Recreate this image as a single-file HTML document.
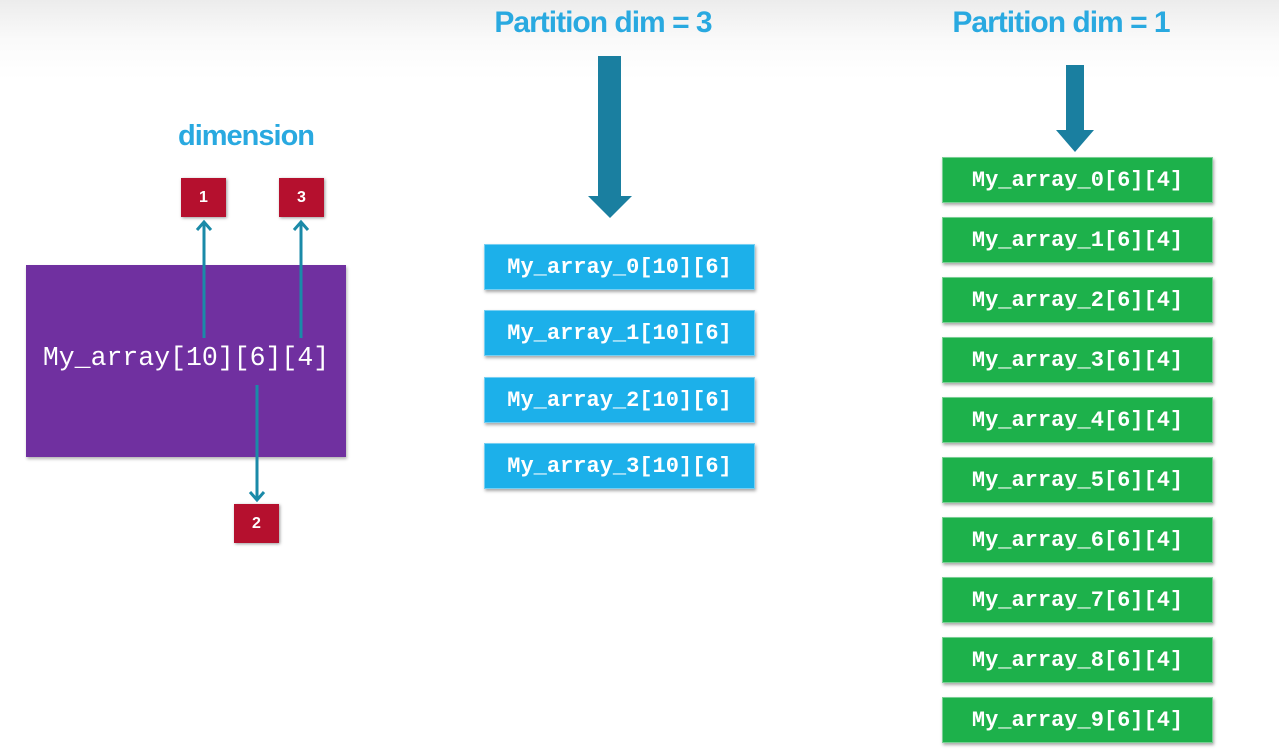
<!DOCTYPE html>
<html><head><meta charset="utf-8"><style>
body{margin:0;width:1279px;height:752px;position:relative;overflow:hidden;background:linear-gradient(#ececec 0px,#fafafa 40px,#fff 80px);font-family:"Liberation Sans",sans-serif}
.a{position:absolute}
.t{color:#29a9e0;font-weight:bold;font-size:30px;letter-spacing:-1px;text-align:center;white-space:nowrap}
.bx{position:absolute;width:271px;height:46px;color:#fff;font-family:"Liberation Mono",monospace;font-weight:bold;font-size:22px;line-height:46px;text-align:center;box-shadow:1px 2px 3px rgba(0,0,0,.35);border:1px solid rgba(255,255,255,.4);box-sizing:border-box}
.b{background:#1cb0ea}.g{background:#1db14b}
.r{position:absolute;width:45px;height:39px;background:#b5102e;color:#fff;font-weight:bold;font-size:16px;line-height:39px;text-align:center;box-shadow:1px 1px 3px rgba(0,0,0,.4)}
</style></head><body>
<div class="a t" style="left:443px;top:6px;width:320px">Partition dim = 3</div>
<div class="a t" style="left:901px;top:6px;width:320px">Partition dim = 1</div>
<div class="a t" style="left:146px;top:120px;width:200px;font-size:29px">dimension</div>
<div class="a" style="left:26px;top:265px;width:320px;height:192px;background:#7030a0;box-shadow:1px 2px 3px rgba(0,0,0,.3)"></div>
<div class="a" style="left:26px;top:343px;width:320px;text-align:center;color:#fff;font-family:'Liberation Mono',monospace;font-size:26.5px">My_array[10][6][4]</div>
<div class="r" style="left:181px;top:178px">1</div>
<div class="r" style="left:279px;top:178px">3</div>
<div class="r" style="left:234px;top:504px">2</div>
<svg class="a" style="left:0;top:0" width="1279" height="752">
<g stroke="#1a8aa8" stroke-width="3" fill="none">
<line x1="204" y1="338" x2="204" y2="222"/><polyline points="197,230 204,222 211,230"/>
<line x1="301" y1="338" x2="301" y2="222"/><polyline points="294,230 301,222 308,230"/>
<line x1="257" y1="385" x2="257" y2="500"/><polyline points="250,492 257,500 264,492"/>
</g>
<polygon points="598,56 621,56 621,196 632,196 610,218 588,196 598,196" fill="#1a7fa0"/>
<polygon points="1066,65 1084,65 1084,130 1094,130 1075,152 1056,130 1066,130" fill="#1a7fa0"/>
</svg>
<div class="bx b" style="left:484px;top:244px">My_array_0[10][6]</div>
<div class="bx b" style="left:484px;top:310px">My_array_1[10][6]</div>
<div class="bx b" style="left:484px;top:377px">My_array_2[10][6]</div>
<div class="bx b" style="left:484px;top:443px">My_array_3[10][6]</div>
<div class="bx g" style="left:942px;top:157px">My_array_0[6][4]</div>
<div class="bx g" style="left:942px;top:217px">My_array_1[6][4]</div>
<div class="bx g" style="left:942px;top:277px">My_array_2[6][4]</div>
<div class="bx g" style="left:942px;top:337px">My_array_3[6][4]</div>
<div class="bx g" style="left:942px;top:397px">My_array_4[6][4]</div>
<div class="bx g" style="left:942px;top:457px">My_array_5[6][4]</div>
<div class="bx g" style="left:942px;top:517px">My_array_6[6][4]</div>
<div class="bx g" style="left:942px;top:577px">My_array_7[6][4]</div>
<div class="bx g" style="left:942px;top:637px">My_array_8[6][4]</div>
<div class="bx g" style="left:942px;top:697px">My_array_9[6][4]</div>
</body></html>
